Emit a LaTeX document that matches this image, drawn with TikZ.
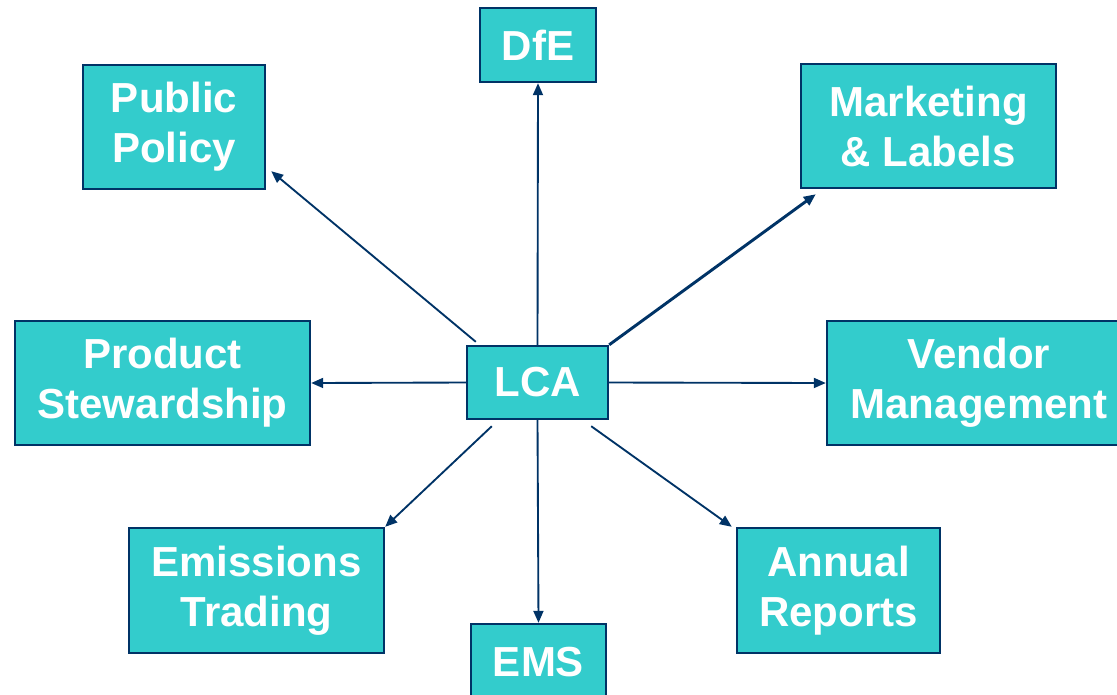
\documentclass[tikz,border=0pt]{standalone}
\usepackage{fontspec}
\setmainfont{Liberation Sans}
\usetikzlibrary{arrows.meta}
\definecolor{boxfill}{HTML}{33CCCC}
\definecolor{navy}{HTML}{003366}
\begin{document}
\begin{tikzpicture}[x=0.75pt,y=-0.75pt,
  box/.style={draw=navy,fill=boxfill,line width=1.8pt,inner sep=0pt,
    text=white,font=\fontsize{31.5}{37.5}\selectfont\bfseries,align=center},
  conn/.style={draw=navy,line width=1.4pt,-{Triangle[length=9pt,width=7.5pt]}}]
\useasboundingbox (0,0) rectangle (1117,694);
\node[box,minimum width=87pt,minimum height=55.5pt] (dfe) at (538,45) {DfE};
\node[box,minimum width=136.5pt,minimum height=93pt] (pp) at (174,127) {Public\\Policy};
\node[box,minimum width=191.25pt,minimum height=93pt] (ml) at (928.5,126) {Marketing\\\& Labels};
\node[box,minimum width=221.25pt,minimum height=93pt] (ps) at (162.5,383) {Product\\Stewardship};
\node[box,minimum width=105.75pt,minimum height=54.75pt] (lca) at (537.5,382.5) {LCA};
\node[box,minimum width=228pt,minimum height=93pt] (vm) at (979,383) {Vendor\\Management};
\node[box,minimum width=191.25pt,minimum height=93.75pt] (et) at (256.5,590.5) {Emissions\\Trading};
\node[box,minimum width=152.25pt,minimum height=93.75pt] (ar) at (838.5,590.5) {Annual\\Reports};
\node[box,minimum width=101.25pt,minimum height=57pt] (ems) at (538.5,662) {EMS};
\draw[conn] (lca.north) -- (dfe.south);
\draw[conn] (lca.south) -- (ems.north);
\draw[conn] (lca.west) -- (ps.east);
\draw[conn] (lca.east) -- (vm.west);
\draw[conn] ([shift={(10,-3)}]lca.north west) -- ([shift={(5,-19)}]pp.south east);
\draw[conn,line width=2.2pt] (lca.north east) -- ([shift={(16,5)}]ml.south west);
\draw[conn] ([shift={(26,6)}]lca.south west) -- (et.north east);
\draw[conn] ([shift={(-18,6)}]lca.south east) -- ([shift={(-4,0)}]ar.north west);
\end{tikzpicture}
\end{document}
